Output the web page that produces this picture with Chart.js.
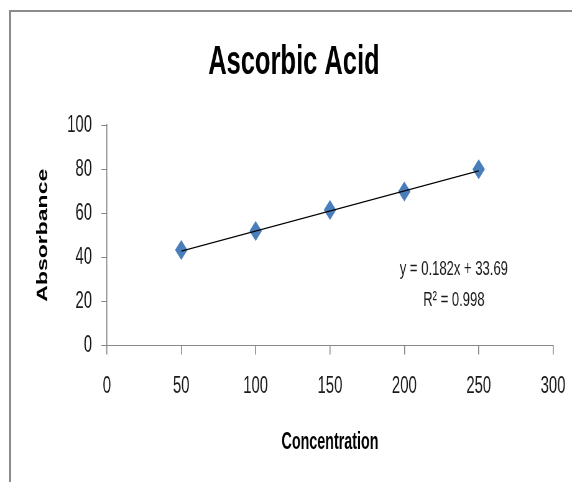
<!DOCTYPE html>
<html>
<head>
<meta charset="utf-8">
<title>Ascorbic Acid</title>
<script src="https://cdn.jsdelivr.net/npm/chart.js@4.4.1/dist/chart.umd.min.js"></script>
<style>
  html, body { margin: 0; padding: 0; background: #fff; overflow: hidden; }
  #wrap { position: relative; width: 572px; height: 482px; }
  #frame { position: absolute; left: 9px; top: 10px; right: -10px; bottom: -10px;
           border-top: 2px solid #8c8c8c; border-left: 2px solid #8c8c8c; pointer-events: none; }
  #chart { display: block; background: #fff; }
</style>
</head>
<body>
<div id="wrap">
  <!-- the source picture is squashed sideways, so draw wide and shrink with css -->
  <canvas id="chart" width="920" height="482" style="width:572px;height:482px"></canvas>
  <div id="frame"></div>
</div>
<script>
const concentration = [50, 100, 150, 200, 250];
const absorbance = [43.3, 51.9, 61.5, 69.8, 79.9];
// linear trendline as drawn in the picture
const trendX = [50, 250];
const trendY = [42.8, 79.2];
const equationText = ['y = 0.182x + 33.69', 'R² = 0.998'];

const axisGrey = '#878787';
const textColor = '#1a1a1a';

Chart.defaults.font.family = '"Liberation Sans", Arial, sans-serif';
Chart.defaults.color = textColor;

const equationLabel = {
  id: 'equationLabel',
  afterDatasetsDraw(chart) {
    const c = chart.ctx;
    c.save();
    c.font = '21px "Liberation Sans", Arial, sans-serif';
    c.fillStyle = textColor;
    c.textAlign = 'center';
    c.textBaseline = 'middle';
    c.fillText(equationText[0], 730, 269);
    c.fillText(equationText[1], 730, 300);
    c.restore();
  }
};

const ctx = document.getElementById('chart').getContext('2d');

const chart = new Chart(ctx, {
  type: 'scatter',
  data: {
    datasets: [
      {
        type: 'line',
        label: 'Linear',
        data: trendX.map((x, i) => ({ x: x, y: trendY[i] })),
        borderColor: '#000',
        borderWidth: 1.2,
        pointRadius: 0,
        fill: false
      },
      {
        label: 'Absorbance',
        data: concentration.map((x, i) => ({ x: x, y: absorbance[i] })),
        pointStyle: 'rectRot',
        pointRadius: 10,
        backgroundColor: '#4a7ebb',
        borderColor: '#4a7ebb',
        borderWidth: 0
      }
    ]
  },
  options: {
    responsive: false,
    devicePixelRatio: 1,
    animation: false,
    layout: { padding: { left: 56, right: 30.5, top: 0, bottom: 0 } },
    plugins: {
      legend: { display: false },
      tooltip: { enabled: false },
      title: {
        display: true,
        text: 'Ascorbic Acid',
        color: '#000',
        font: { size: 41, weight: 'bold', lineHeight: 1.2 },
        padding: { top: 37.9, bottom: 37.9 }
      }
    },
    scales: {
      x: {
        type: 'linear',
        min: 0,
        max: 300,
        ticks: { stepSize: 50, padding: 17, font: { size: 24 } },
        grid: { drawOnChartArea: false, tickLength: 9, color: axisGrey, lineWidth: 1.6 },
        border: { color: axisGrey, width: 1 },
        title: {
          display: true,
          text: 'Concentration',
          color: '#000',
          font: { size: 23, weight: 'bold' },
          padding: { top: 0, bottom: 26 }
        },
        afterFit(scale) {
          scale.height = 136.5;
          // end labels may hang past the plot, the page padding has room for them
          scale.paddingLeft = 0;
          scale.paddingRight = 0;
        }
      },
      y: {
        min: 0,
        max: 100,
        ticks: { stepSize: 20, padding: 15, font: { size: 24 } },
        grid: { drawOnChartArea: false, tickLength: 9, color: axisGrey, lineWidth: 1 },
        border: { color: axisGrey, width: 1.6 },
        title: {
          display: true,
          text: 'Absorbance',
          color: '#000',
          font: { size: 23, weight: 'bold' },
          padding: { top: 0, bottom: 0 }
        },
        afterFit(scale) { scale.width = 116; }
      }
    }
  },
  plugins: [equationLabel]
});
</script>
</body>
</html>
